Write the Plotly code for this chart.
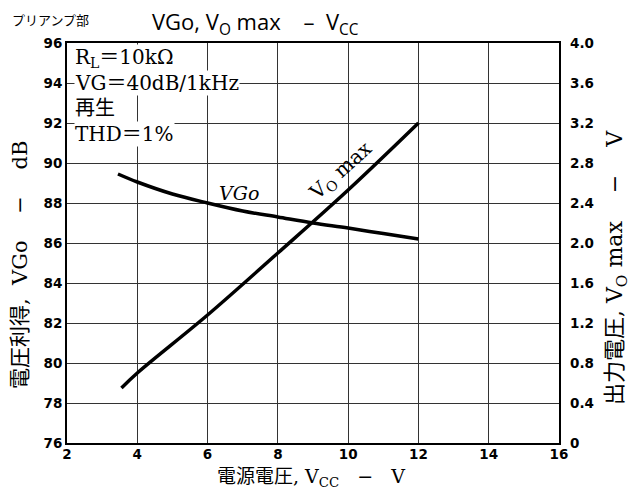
import plotly.graph_objects as go

# ---- data ----
vcc_vgo = [3.45, 4, 5, 6, 7, 8, 9, 10, 11, 12]
vgo_db = [89.45, 89.05, 88.45, 88.0, 87.6, 87.3, 87.0, 86.75, 86.47, 86.2]

vcc_vo = [3.55, 4, 6, 8, 10, 12]
vo_max = [0.55, 0.70, 1.28, 1.90, 2.53, 3.20]

x_ticks = [2, 4, 6, 8, 10, 12, 14, 16]
y_left_ticks = [76, 78, 80, 82, 84, 86, 88, 90, 92, 94, 96]
y_right_vals = [0, 0.4, 0.8, 1.2, 1.6, 2.0, 2.4, 2.8, 3.2, 3.6, 4.0]
y_right_text = ["0", "0.4", "0.8", "1.2", "1.6", "2.0", "2.4", "2.8", "3.2", "3.6", "4.0"]

SERIF = "DejaVu Serif, Noto Sans CJK JP"
TICKF = dict(family="DejaVu Sans", size=13.5, color="black", weight="bold")
NB = "\u00a0"

L, R, T, B = 67, 76, 43, 54
PW, PH = 635 - L - R, 497 - T - B


def px(xp):
    return (xp - L) / PW


def py(yp):
    return (497 - B - yp) / PH


fig = go.Figure()
fig.add_trace(go.Scatter(x=vcc_vgo, y=vgo_db, mode="lines",
                         line=dict(color="black", width=3.5, shape="spline"),
                         showlegend=False))
fig.add_trace(go.Scatter(x=vcc_vo, y=vo_max, mode="lines", yaxis="y2",
                         line=dict(color="black", width=3.5, shape="spline"),
                         showlegend=False))

fig.update_layout(
    width=635, height=497,
    margin=dict(l=L, r=R, t=T, b=B, pad=0),
    paper_bgcolor="white", plot_bgcolor="white",
    xaxis=dict(range=[2, 16], tickvals=x_ticks, showgrid=True, gridcolor="#333",
               gridwidth=1, showline=True, linecolor="black", linewidth=2,
               mirror=True, ticks="", tickfont=TICKF, zeroline=False,
               automargin=False, ticklabelstandoff=-2),
    yaxis=dict(range=[76, 96], tickvals=y_left_ticks, showgrid=True, gridcolor="#333",
               gridwidth=1, showline=True, linecolor="black", linewidth=2,
               mirror=True, ticks="", tickfont=TICKF, zeroline=False,
               automargin=False),
    yaxis2=dict(range=[0, 4], tickvals=y_right_vals, ticktext=y_right_text,
                overlaying="y", side="right", showgrid=False, zeroline=False,
                showline=False, ticks="", tickfont=TICKF, ticklabelstandoff=10,
                automargin=False),
)

ann = []
# condition text box lines (white background hides grid behind)
box_lines = [
    ("R<sub>L</sub>＝10kΩ", 58),
    ("VG＝40dB/1kHz", 83),
    ("再生", 108),
    ("THD＝1%", 134),
]
for txt, ypix in box_lines:
    ann.append(dict(text=txt, xref="paper", yref="paper",
                    x=px(74), y=py(ypix),
                    xanchor="left", yanchor="middle", showarrow=False,
                    bgcolor="white", borderpad=0,
                    font=dict(family=SERIF, size=20, color="black")))
# curve labels
ann.append(dict(text="<i>VGo</i>", x=6.9, y=88.5, xref="x", yref="y",
                showarrow=False, font=dict(family=SERIF, size=19, color="black")))
ann.append(dict(text="V<sub>O</sub>" + NB + "max", x=9.8, y=89.6, xref="x", yref="y",
                showarrow=False, textangle=-42,
                font=dict(family=SERIF, size=20, color="black")))
# title
ann.append(dict(text="プリアンプ部", xref="paper", yref="paper",
                x=px(10), y=py(20), xanchor="left", yanchor="middle",
                showarrow=False, font=dict(family="Noto Sans CJK JP", size=13, color="black")))
ann.append(dict(text="VGo, V<sub>O</sub> max" + NB * 4 + "–" + NB * 2 + "V<sub>CC</sub>",
                xref="paper", yref="paper",
                x=px(150), y=py(23), xanchor="left", yanchor="middle",
                showarrow=False, font=dict(family="Open Sans", size=22, color="black")))
# axis titles
ann.append(dict(text="電圧利得," + NB * 2 + "VGo" + NB * 4 + "−" + NB * 4 + "dB",
                xref="paper", yref="paper",
                x=px(20), y=py(265), xanchor="center", yanchor="middle",
                textangle=-90, showarrow=False,
                font=dict(family=SERIF, size=21, color="black")))
ann.append(dict(text="出力電圧," + NB + "V<sub>O</sub>" + NB + "max" + NB * 4 + "−" + NB * 4 + "V",
                xref="paper", yref="paper",
                x=px(616), y=py(268), xanchor="center", yanchor="middle",
                textangle=-90, showarrow=False,
                font=dict(family=SERIF, size=22, color="black")))
ann.append(dict(text="電源電圧," + NB + "V<sub>CC</sub>" + NB * 3 + "−" + NB * 3 + "V",
                xref="paper", yref="paper",
                x=px(311), y=py(478), xanchor="center", yanchor="middle",
                showarrow=False, font=dict(family=SERIF, size=19, color="black")))
fig.update_layout(annotations=ann)

fig.write_html("out.html", config={"displayModeBar": False},
               post_script="document.body.style.margin='0';document.body.style.padding='0';")
